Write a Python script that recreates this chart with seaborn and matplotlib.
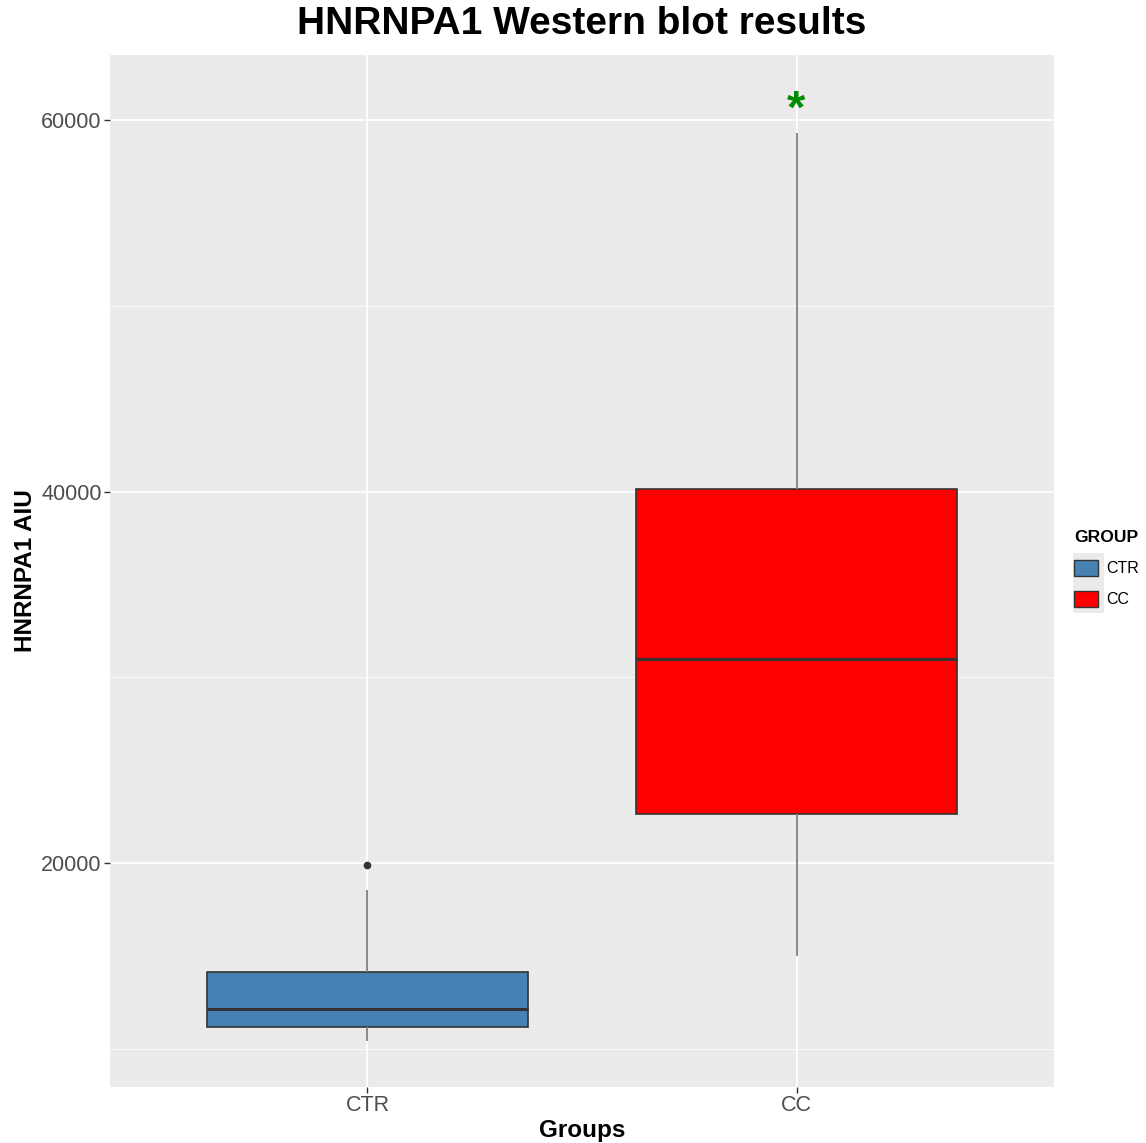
import matplotlib
matplotlib.use("Agg")
import matplotlib.pyplot as plt
import seaborn as sns
import pandas as pd
from matplotlib.patches import Patch, Rectangle
from matplotlib.ticker import MultipleLocator

# --- data (estimated observations per group) ---
groups = ["CTR", "CC"]
ctr_values = [10440, 10800, 11160, 11600, 12140, 13000, 14150, 18550, 19880]
cc_values = [15010, 22625, 30985, 40135, 59300]
colors = {"CTR": "#4682B4", "CC": "#FF0000"}
yticks = [20000, 40000, 60000]
star_label = "*"
star_y = 60500

df = pd.DataFrame({
    "Group": ["CTR"] * len(ctr_values) + ["CC"] * len(cc_values),
    "AIU": ctr_values + cc_values,
})
df["Group"] = pd.Categorical(df["Group"], categories=groups, ordered=True)

sns.set_theme(style="darkgrid")
plt.rcParams["font.family"] = ["Liberation Sans", "DejaVu Sans"]

fig = plt.figure(figsize=(11.46, 11.43), dpi=100)
ax = fig.add_axes([110 / 1146, 1 - 1087 / 1143, 944 / 1146, 1032 / 1143])
ax.set_facecolor("#EBEBEB")

sns.boxplot(data=df, x="Group", y="AIU", hue="Group", palette=colors,
            order=groups, hue_order=groups, width=0.75, linewidth=1.2,
            saturation=1, linecolor="#333333", dodge=False, legend=False, ax=ax,
            whiskerprops=dict(color="#7F7F7F", linewidth=1.3),
            capprops=dict(linewidth=0),
            medianprops=dict(color="#333333", linewidth=2.2),
            flierprops=dict(marker="o", markersize=4.5, markerfacecolor="#333333",
                            markeredgecolor="#333333"))

ax.set_xlim(-0.6, 1.6)
ax.set_ylim(7946, 63499)
ax.yaxis.set_major_locator(MultipleLocator(20000))
ax.yaxis.set_minor_locator(MultipleLocator(10000))
ax.set_yticks(yticks)
ax.grid(which="major", color="white", linewidth=1.3)
ax.grid(which="minor", color="white", linewidth=0.6)
for s in ax.spines.values():
    s.set_visible(False)
ax.set_axisbelow(True)

ax.tick_params(axis="both", which="major", length=4, width=1, color="#333333",
               labelcolor="#4D4D4D", labelsize=15.5, pad=2, bottom=True, left=True)
ax.tick_params(axis="y", which="minor", length=0)

ax.set_xlabel("Groups", fontsize=17.5, fontweight="bold", color="black", labelpad=2)
ax.set_ylabel("HNRNPA1 AIU", fontsize=17.5, fontweight="bold", color="black", labelpad=3)

ax.text(1, star_y, star_label, color="#008B00", fontsize=34, fontweight="bold",
        ha="center", va="center")

fig.text(582 / 1146, 1 - 24 / 1143, "HNRNPA1 Western blot results", fontsize=28,
         fontweight="bold", color="black", ha="center", va="center")

# grey legend-key background (ggplot style)
fig.patches.append(Rectangle((1073 / 1146, 1 - 613 / 1143), 31 / 1146, 60 / 1143,
                             transform=fig.transFigure, facecolor="#EBEBEB",
                             edgecolor="none", zorder=0))

handles = [Patch(facecolor=colors[g], edgecolor="#333333", label=g) for g in groups]
leg = fig.legend(handles=handles, title="GROUP", loc="upper left",
                 bbox_to_anchor=(1068 / 1146, 1 - 524 / 1143), frameon=False,
                 fontsize=11.5, title_fontproperties={"weight": "bold", "size": 12.6},
                 handlelength=1.5, handleheight=1.2, handletextpad=0.5,
                 labelspacing=0.9, borderaxespad=0)
leg._legend_box.align = "left"
leg.get_title().set_color("black")
for t in leg.get_texts():
    t.set_color("black")

fig.savefig("out.png", dpi=100)
